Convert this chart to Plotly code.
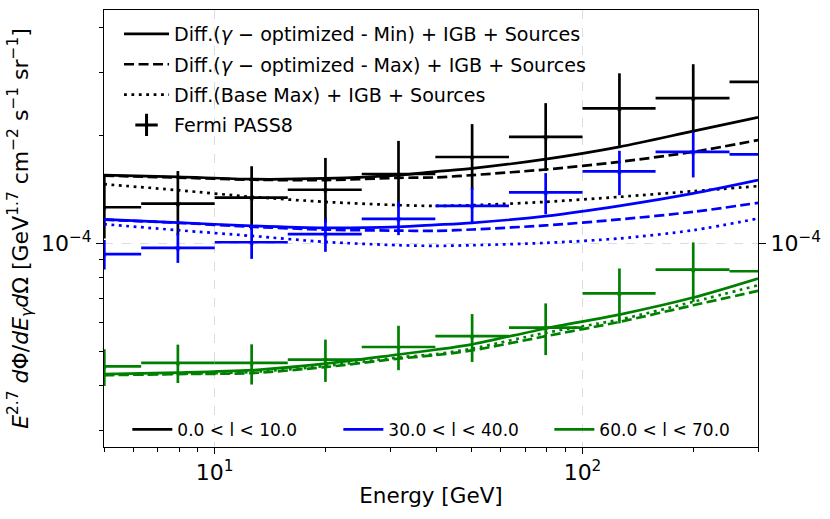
import plotly.graph_objects as go

# ---------------- data ----------------
# Fermi bins (GeV)
E_center = [5.01, 7.94, 12.6, 20.0, 31.6, 50.1, 79.4, 126, 200, 316]
E_lo = [3.98, 6.31, 10.0, 15.8, 25.1, 39.8, 63.1, 100, 158, 251]
E_hi = [6.31, 10.0, 15.8, 25.1, 39.8, 63.1, 100, 158, 251, 398]

# Fermi PASS8 data  (E^2.7 dPhi/dE dOmega)
black_y = [1.26e-4, 1.29e-4, 1.34e-4, 1.41e-4, 1.56e-4, 1.74e-4, 1.98e-4, 2.38e-4, 2.54e-4, 2.82e-4]
black_top = [1.55e-4, 1.59e-4, 1.64e-4, 1.73e-4, 1.93e-4, 2.15e-4, 2.46e-4, 2.98e-4, 3.16e-4, 3.55e-4]
black_bot = [1.03e-4, 1.05e-4, 1.09e-4, 1.14e-4, 1.26e-4, 1.41e-4, 1.59e-4, 1.87e-4, 2.04e-4, 2.24e-4]

blue_y = [0.932e-4, 0.970e-4, 1.006e-4, 1.060e-4, 1.169e-4, 1.271e-4, 1.386e-4, 1.586e-4, 1.799e-4, 1.770e-4]
blue_top = [1.020e-4, 1.069e-4, 1.118e-4, 1.167e-4, 1.304e-4, 1.427e-4, 1.569e-4, 1.811e-4, 2.046e-4, 2.016e-4]
blue_bot = [0.844e-4, 0.881e-4, 0.904e-4, 0.946e-4, 1.053e-4, 1.137e-4, 1.205e-4, 1.362e-4, 1.526e-4, 1.529e-4]

green_y = [0.453e-4, 0.463e-4, 0.463e-4, 0.473e-4, 0.513e-4, 0.550e-4, 0.581e-4, 0.724e-4, 0.844e-4, 0.835e-4]
green_top = [0.506e-4, 0.521e-4, 0.522e-4, 0.538e-4, 0.588e-4, 0.634e-4, 0.679e-4, 0.850e-4, 1.005e-4, 0.994e-4]
green_bot = [0.399e-4, 0.407e-4, 0.403e-4, 0.410e-4, 0.442e-4, 0.466e-4, 0.487e-4, 0.597e-4, 0.686e-4, 0.693e-4]

# Model curves
E_model = [5.0, 7.94, 12.6, 20.0, 31.6, 39.8, 50.1, 79.4, 126, 200, 300]
black_min = [1.549e-4, 1.532e-4, 1.509e-4, 1.516e-4, 1.549e-4, 1.584e-4, 1.617e-4, 1.717e-4, 1.858e-4, 2.055e-4, 2.245e-4]
black_max = [1.544e-4, 1.524e-4, 1.504e-4, 1.500e-4, 1.522e-4, 1.526e-4, 1.549e-4, 1.606e-4, 1.687e-4, 1.799e-4, 1.940e-4]
black_base = [1.461e-4, 1.406e-4, 1.347e-4, 1.304e-4, 1.277e-4, 1.271e-4, 1.277e-4, 1.304e-4, 1.347e-4, 1.397e-4, 1.443e-4]
blue_min = [1.165e-4, 1.142e-4, 1.118e-4, 1.103e-4, 1.111e-4, 1.125e-4, 1.140e-4, 1.190e-4, 1.271e-4, 1.377e-4, 1.500e-4]
blue_max = [1.163e-4, 1.140e-4, 1.111e-4, 1.091e-4, 1.084e-4, 1.082e-4, 1.092e-4, 1.121e-4, 1.165e-4, 1.223e-4, 1.296e-4]
blue_base = [1.130e-4, 1.087e-4, 1.048e-4, 1.008e-4, 0.987e-4, 0.983e-4, 0.987e-4, 1.002e-4, 1.031e-4, 1.087e-4, 1.172e-4]
green_min = [0.431e-4, 0.435e-4, 0.442e-4, 0.461e-4, 0.489e-4, 0.504e-4, 0.522e-4, 0.578e-4, 0.632e-4, 0.705e-4, 0.797e-4]
green_max = [0.428e-4, 0.431e-4, 0.434e-4, 0.451e-4, 0.476e-4, 0.487e-4, 0.502e-4, 0.550e-4, 0.603e-4, 0.671e-4, 0.736e-4]
green_base = [0.429e-4, 0.432e-4, 0.437e-4, 0.454e-4, 0.480e-4, 0.490e-4, 0.508e-4, 0.562e-4, 0.612e-4, 0.686e-4, 0.763e-4]

region_labels = ["0.0 < l < 10.0", "30.0 < l < 40.0", "60.0 < l < 70.0"]
model_labels = ["Diff.(<i>γ</i> − optimized - Min) + IGB + Sources",
                "Diff.(<i>γ</i> − optimized - Max) + IGB + Sources",
                "Diff.(Base Max) + IGB + Sources"]
data_label = "Fermi PASS8"

x_ticks = [10, 100]
x_ticktext = ["10<sup>1</sup>", "10<sup>2</sup>"]
x_minor = [5, 6, 7, 8, 9, 20, 30, 40, 50, 60, 70, 80, 90, 200, 300]
y_ticks = [1e-4]
y_ticktext = ["10<sup>−4</sup>"]
y_minor = [3e-5, 4e-5, 5e-5, 6e-5, 7e-5, 8e-5, 9e-5, 2e-4, 3e-4, 4e-4]

# ---------------- styling ----------------
FONT = "DejaVu Sans"
LW = 2.7
DASH = "10px,4.5px"
DOT = "2.8px,4.6px"
colors = ["#000000", "#0000ff", "#008000"]

fig = go.Figure()

regions = [
    (black_min, black_max, black_base, black_y, black_top, black_bot),
    (blue_min, blue_max, blue_base, blue_y, blue_top, blue_bot),
    (green_min, green_max, green_base, green_y, green_top, green_bot),
]

for col, (cmin, cmax, cbase, dy, dtop, dbot) in zip(colors, regions):
    for vals, dash in [(cmin, "solid"), (cmax, DASH), (cbase, DOT)]:
        fig.add_trace(go.Scatter(
            x=E_model, y=vals, mode="lines", showlegend=False,
            line=dict(color=col, width=LW, dash=dash, shape="spline", smoothing=0.8),
            hoverinfo="skip"))
    fig.add_trace(go.Scatter(
        x=E_center, y=dy, mode="markers", showlegend=False,
        marker=dict(symbol="star", size=5, color=col),
        error_y=dict(type="data", symmetric=False,
                     array=[t - v for t, v in zip(dtop, dy)],
                     arrayminus=[v - b for v, b in zip(dy, dbot)],
                     color=col, thickness=LW, width=0),
        error_x=dict(type="data", symmetric=False,
                     array=[h - c for h, c in zip(E_hi, E_center)],
                     arrayminus=[c - l for c, l in zip(E_center, E_lo)],
                     color=col, thickness=LW, width=0),
    ))

# legend 1 (model styles + data)
for i, (lab, dash) in enumerate(zip(model_labels, ["solid", DASH, DOT])):
    fig.add_trace(go.Scatter(x=[None], y=[None], mode="lines", name=lab, yaxis="y2",
                             line=dict(color="black", width=LW, dash=dash),
                             legend="legend", legendgroup=f"m{i}"))
fig.add_trace(go.Scatter(x=[None], y=[None], mode="markers", name=data_label, yaxis="y2",
                         marker=dict(symbol="cross-thin", size=16, color="black",
                                     line=dict(color="black", width=3)),
                         legend="legend", legendgroup="data"))

# legend 2 (regions)
for lab, col in zip(region_labels, colors):
    fig.add_trace(go.Scatter(x=[None], y=[None], mode="lines", name=lab, yaxis="y2",
                             line=dict(color=col, width=LW),
                             legend="legend2"))

xr = [0.69897, 2.47712]
yr = [-4.569, -3.349]

fig.update_layout(
    width=830, height=519,
    margin=dict(l=104, r=72, t=10, b=72),
    paper_bgcolor="white", plot_bgcolor="white",
    font=dict(family=FONT, color="black"),
    xaxis=dict(type="log", range=xr, tickmode="array", tickvals=x_ticks, ticktext=x_ticktext,
               tickfont=dict(size=22), ticks="outside", ticklen=6, tickwidth=1, tickcolor="black",
               showline=True, linecolor="black", linewidth=1, mirror=True, automargin=False,
               showgrid=True, gridcolor="#dcdcdc", griddash="dash", gridwidth=1,
               zeroline=False,
               minor=dict(tickmode="array", tickvals=x_minor, ticks="outside", ticklen=4,
                          tickwidth=1, tickcolor="black", showgrid=False),
               title=dict(text="Energy [GeV]", font=dict(size=21.5), standoff=3)),
    yaxis=dict(type="log", range=yr, tickmode="array", tickvals=y_ticks, ticktext=y_ticktext,
               tickfont=dict(size=22), ticks="outside", ticklen=7, tickwidth=1, tickcolor="black",
               showline=True, linecolor="black", linewidth=1, mirror=True, automargin=False,
               showgrid=True, gridcolor="#dcdcdc", griddash="dash", gridwidth=1,
               zeroline=False,
               minor=dict(tickmode="array", tickvals=y_minor, ticks="outside", ticklen=4,
                          tickwidth=1, tickcolor="black", showgrid=False),
               title=dict(text="<i>E</i><sup>2.7</sup> <i>d</i>Φ/<i>dE</i><sub><i>γ</i></sub><i>d</i>Ω [GeV<sup>1.7</sup> cm<sup>−2</sup> s<sup>−1</sup> sr<sup>−1</sup>]",
                          font=dict(size=22), standoff=6)),
    yaxis2=dict(type="log", range=yr, overlaying="y", side="right", anchor="x",
                tickmode="array", tickvals=y_ticks, ticktext=y_ticktext, automargin=False,
                tickfont=dict(size=22), ticks="outside", ticklen=7, tickwidth=1, tickcolor="black",
                showgrid=False, zeroline=False, showline=False),
    legend=dict(x=0.023, y=0.9886, xanchor="left", yanchor="top", itemwidth=45,
                bgcolor="rgba(0,0,0,0)", borderwidth=0, font=dict(size=19.1),
                traceorder="grouped", tracegroupgap=2.5),
    legend2=dict(orientation="h", x=0.0357, y=-0.002, xanchor="left", yanchor="bottom",
                 bgcolor="rgba(0,0,0,0)", borderwidth=0, font=dict(size=17),
                 itemwidth=40, entrywidth=156),
    showlegend=True,
)

fig.write_html("out.html", config={"displayModeBar": False},
               post_script="document.body.style.margin='0';")
